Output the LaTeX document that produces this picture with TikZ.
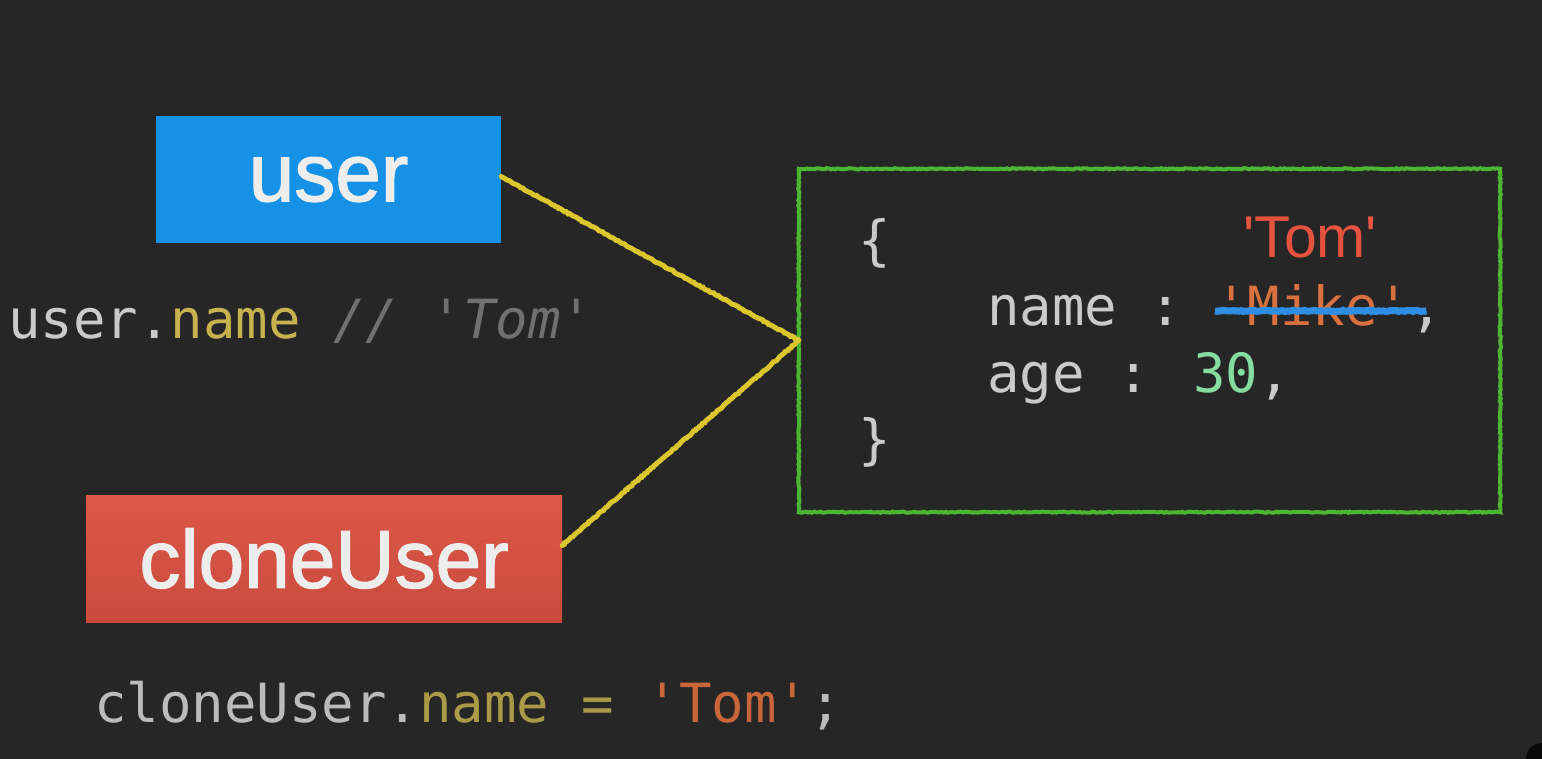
\documentclass[tikz,border=0pt]{standalone}
\usepackage{fontspec}
\usetikzlibrary{decorations.pathmorphing}
\setmainfont{Liberation Sans}
\newfontfamily\codefont{DejaVu Sans Mono}
\newfontfamily\labelfont[FakeBold=1.6]{Liberation Sans}
\newfontfamily\tomfont{Liberation Sans}
\definecolor{bgc}{HTML}{262626}
\definecolor{userblue}{HTML}{1592E6}
\definecolor{redtop}{HTML}{DD5847}
\definecolor{redbot}{HTML}{C94B3E}
\definecolor{chalkyellow}{HTML}{DCC62E}
\definecolor{chalkgreen}{HTML}{4CB531}
\definecolor{chalkblue}{HTML}{2E8EE3}
\definecolor{codegray}{HTML}{CACACA}
\definecolor{codegrayb}{HTML}{BBBBBB}
\definecolor{olivea}{HTML}{C6B24E}
\definecolor{oliveb}{HTML}{A89A46}
\definecolor{commentgray}{HTML}{707070}
\definecolor{strorange}{HTML}{D9703F}
\definecolor{strorangeb}{HTML}{C8663A}
\definecolor{numgreen}{HTML}{86DCA0}
\definecolor{tomred}{HTML}{E5533F}
\definecolor{labelwhite}{HTML}{EDEDED}
\begin{document}
\begin{tikzpicture}[x=1pt,y=-1pt,
  varbox/.style={draw=none,minimum width=#1,inner sep=0pt,minimum height=127pt,
    text=labelwhite,font=\labelfont\fontsize{82}{82}\selectfont},
  codetext/.style={inner sep=0pt,anchor=base west,text=codegray,
    font=\codefont\fontsize{54}{54}\selectfont},
  chalk/.style={decorate,decoration={random steps,segment length=2pt,amplitude=0.6pt}},
  chalkline/.style={line width=5pt,line cap=round,draw=chalkyellow,chalk}]
\useasboundingbox (0,0) rectangle (1542,759);
\fill[bgc] (0,0) rectangle (1542,759);
\begin{scope}
\clip (0,0) rectangle (1542,759);
\fill[black!75!bgc] (1542,759) circle (16pt);
\end{scope}
% variable boxes
\node[varbox=345pt,fill=userblue] (user) at (328.5,179.5) {user};
\node[varbox=476pt,top color=redtop,bottom color=redbot] (clone) at (324,558.5) {cloneUser};
% object box
\node[minimum width=701pt,minimum height=343pt,inner sep=0pt] (obj) at (1149.5,340.5) {};
\draw[draw=chalkgreen,line width=4pt,chalk] (obj.north west) -- (obj.north east) -- (obj.south east) -- (obj.south west) -- cycle;
% connectors
\draw[chalkline] ([yshift=3pt]user.east) -- (obj.west);
\draw[chalkline] ([yshift=13pt]clone.east) -- (obj.west);
% code under user
\node[codetext] (usercode) at (8,338) {user.\textcolor{olivea}{name} \textcolor{commentgray}{\itshape // 'Tom'}};
% code under clone
\node[codetext,text=codegrayb] (clonecode) at (94,722) {cloneUser.\textcolor{oliveb}{name =} \textcolor{strorangeb}{'Tom'};};
% object contents
\node[codetext] (lbrace) at (858,260) {\{};
\node[codetext] (namekey) at (987,326) {name :};
\node[codetext,text=strorange] (mike) at ([xshift=32.5pt]namekey.base east) {'Mike'};
\node[codetext] (comma1) at (mike.base east) {,};
\node[codetext] (agekey) at (987,392) {age : \textcolor{numgreen}{30},};
\node[codetext] (rbrace) at (858,458) {\}};
\node[anchor=base west,inner sep=0pt,text=tomred,font=\tomfont\fontsize{59}{59}\selectfont] (tom) at (1243,258) {\char"0027Tom\char"0027};
\draw[line width=7pt,draw=chalkblue,chalk] ([yshift=-5pt]mike.west) -- ([yshift=-5pt,xshift=16pt]mike.east);
\end{tikzpicture}
\end{document}
